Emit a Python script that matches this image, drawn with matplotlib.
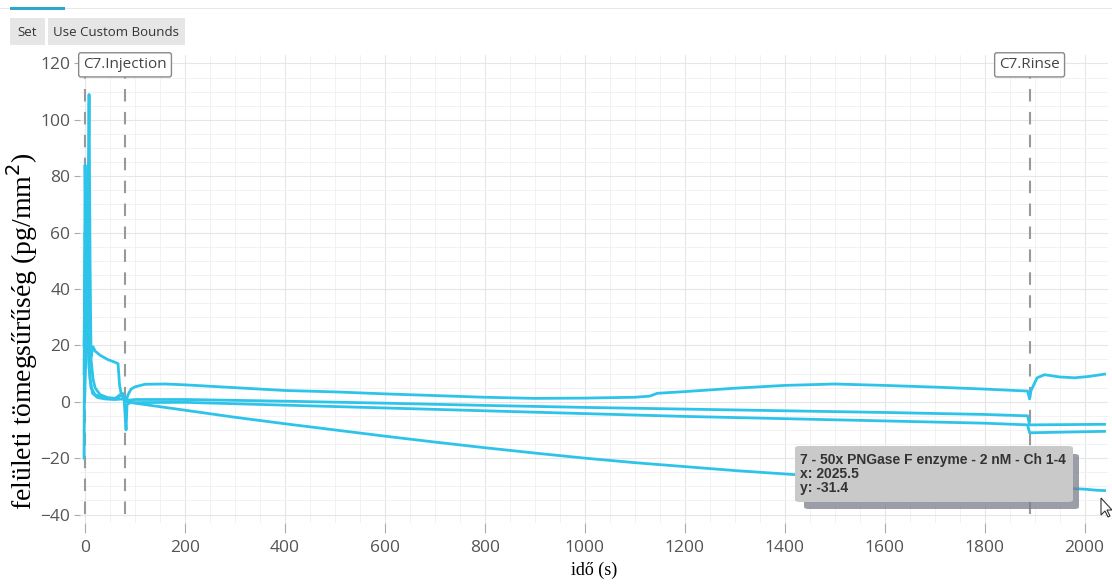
import matplotlib.pyplot as plt
from matplotlib.patches import FancyBboxPatch, Rectangle, Polygon
from matplotlib.ticker import MultipleLocator

# Values
t1 = [-2, 0, 3, 6, 9, 12, 16, 20, 30, 45, 60, 66, 69, 72, 78, 82, 86, 92, 100, 120, 160, 200,
      300, 400, 500, 600, 700, 800, 900, 1000, 1100, 1130, 1145, 1200, 1300, 1400, 1500, 1600,
      1700, 1800, 1886, 1890, 1893, 1905, 1920, 1950, 1980, 2010, 2040]
y1 = [20, 50, 66, 40, 25, 16, 19.5, 18, 16.5, 15, 14, 13.5, 6, 3, 2, 0, 2.5, 4.5, 5.3, 6.2, 6.3, 6,
      5, 4, 3.5, 2.8, 2.2, 1.6, 1.2, 1.3, 1.6, 2, 3, 3.6, 4.8, 5.8, 6.3, 5.8,
      5.2, 4.5, 3.8, 1, 4, 8.5, 9.6, 8.8, 8.5, 9, 9.8]

t2 = [-1, 4, 8, 10, 12, 16, 20, 30, 45, 60, 70, 75, 80, 85, 100, 200, 400, 600, 800, 1000,
      1200, 1400, 1600, 1800, 1886, 1890, 2040]
y2 = [0, 30, 109, 50, 15, 8, 5, 2.5, 1.5, 1.2, 2, 3, 1, 0.5, 0.8, 0.8, 0.2, -0.5, -1.3, -2,
      -2.6, -3.2, -3.8, -4.5, -5, -8.2, -8]

t3 = [-2, 0, 2, 5, 8, 12, 20, 40, 60, 70, 78, 82, 84, 90, 200, 400, 600, 800, 1000, 1200,
      1400, 1600, 1800, 1886, 1890, 2040]
y3 = [-20, 84, 50, 30, 12, 5, 2.5, 1.2, 1, 2.5, 1.5, -10, -1, -0.3, -0.2, -1.2, -2.2, -3.2, -4.2,
      -5.2, -6, -6.8, -7.6, -8.2, -11, -10.5]

t4 = [-2, 0, 3, 6, 10, 15, 25, 40, 60, 75, 82, 100, 200, 300, 400, 500, 600, 700, 800, 900,
      1000, 1100, 1200, 1300, 1400, 1500, 1600, 1700, 1800, 1900, 2000, 2025.5, 2040]
y4 = [10, 60, 40, 20, 8, 3, 1.5, 1, 0.8, 1, 0, -0.5, -3, -5.5, -7.8, -10, -12.2, -14.3, -16.3,
      -18.2, -20, -21.6, -23, -24.4, -25.6, -26.8, -27.8, -28.7, -29.5, -30.3, -31, -31.4, -31.5]

events = [0, 80, 1890]
event_labels = {80: 'C7.Injection', 1890: 'C7.Rinse'}

line_color = '#2ec4ea'
tick_font = 'Open Sans'

fig = plt.figure(figsize=(11.12, 5.85), dpi=100)
ax = fig.add_axes([0.072, 0.106, 0.924, 0.80])

for t, y in [(t1, y1), (t2, y2), (t3, y3), (t4, y4)]:
    ax.plot(t, y, color=line_color, lw=2, zorder=3)

for e in events:
    ax.axvline(e, ymin=0.02, ymax=0.96, color='#999999', lw=1.5, ls=(0, (6, 5)), zorder=2)
for e, lab in event_labels.items():
    ax.text(e, 119.5, lab, ha='center', va='center', fontsize=11, color='#444444',
            family=tick_font, zorder=5,
            bbox=dict(boxstyle='round,pad=0.3,rounding_size=0.15', fc='white', ec='#888888', lw=1))

ax.set_xlim(-10, 2046)
ax.set_ylim(-43, 123)
ax.set_xticks(range(0, 2001, 200))
ax.set_yticks(range(-40, 121, 20))
ax.xaxis.set_minor_locator(MultipleLocator(50))
ax.yaxis.set_minor_locator(MultipleLocator(5))
ax.grid(which='major', color='#e6e6e6', lw=0.8)
ax.grid(which='minor', color='#f0f0f0', lw=0.6)
ax.set_axisbelow(True)
for s in ax.spines.values():
    s.set_visible(False)
ax.tick_params(which='minor', length=0)
ax.tick_params(axis='y', which='major', length=4, color='#aaaaaa', labelsize=12.5,
               labelcolor='#555555', pad=3)
ax.tick_params(axis='x', which='major', length=7, color='#aaaaaa', labelsize=12.5,
               labelcolor='#555555', pad=5)
for lbl in ax.get_xticklabels() + ax.get_yticklabels():
    lbl.set_family(tick_font)

ax.set_ylabel('felületi tömegsűrűség (pg/mm$^2$)', family='Liberation Serif', fontsize=20,
              labelpad=0)
ax.yaxis.set_label_coords(-0.039, 0.41)
ax.set_xlabel('idő (s)', family='Liberation Serif', fontsize=13, labelpad=4)

# toolbar buttons and tab strip
fig.add_artist(Rectangle((0, 1 - 9 / 585), 1, 1.5 / 585, transform=fig.transFigure,
                         fc='#e8e8e8', ec='none'))
fig.add_artist(Rectangle((10 / 1112, 1 - 10 / 585), 55 / 1112, 3 / 585,
                         transform=fig.transFigure, fc='#2aa8c9', ec='none'))
fig.add_artist(Rectangle((10 / 1112, 1 - 45 / 585), 35 / 1112, 27 / 585,
                         transform=fig.transFigure, fc='#e6e6e6', ec='none'))
fig.add_artist(Rectangle((48 / 1112, 1 - 45 / 585), 137 / 1112, 27 / 585,
                         transform=fig.transFigure, fc='#e6e6e6', ec='none'))
fig.text(27 / 1112, 1 - 32 / 585, 'Set', ha='center', va='center', fontsize=9.5,
         family=tick_font, color='#333333')
fig.text(116 / 1112, 1 - 32 / 585, 'Use Custom Bounds', ha='center', va='center', fontsize=9.5,
         family=tick_font, color='#333333')

# hover tooltip
fig.add_artist(FancyBboxPatch((804 / 1112, 1 - 509 / 585), 275 / 1112, 55 / 585,
                              boxstyle='round,pad=0,rounding_size=0.004',
                              transform=fig.transFigure, fc='#7a7e8c', ec='none', alpha=0.75))
fig.add_artist(FancyBboxPatch((795 / 1112, 1 - 502 / 585), 278 / 1112, 56 / 585,
                              boxstyle='round,pad=0,rounding_size=0.004',
                              transform=fig.transFigure, fc='#c9c9c9', ec='none'))
tip = ['7 - 50x PNGase F enzyme - 2 nM - Ch 1-4', 'x: 2025.5', 'y: -31.4']
for i, s in enumerate(tip):
    fig.text(800 / 1112, 1 - (460 + i * 14) / 585, s, ha='left', va='center', fontsize=10,
             family='Liberation Sans', weight='bold', color='#333333')

# mouse pointer
cx, cy = 1101, 498
pts = [(0, 0), (0, 17), (4, 13), (7, 19), (9, 18), (6, 12), (11, 12)]
fig.add_artist(Polygon([((cx + px) / 1112, 1 - (cy + py) / 585) for px, py in pts],
                       closed=True, transform=fig.transFigure, fc='white', ec='#333333', lw=0.8))

fig.savefig('out.png', dpi=100)
